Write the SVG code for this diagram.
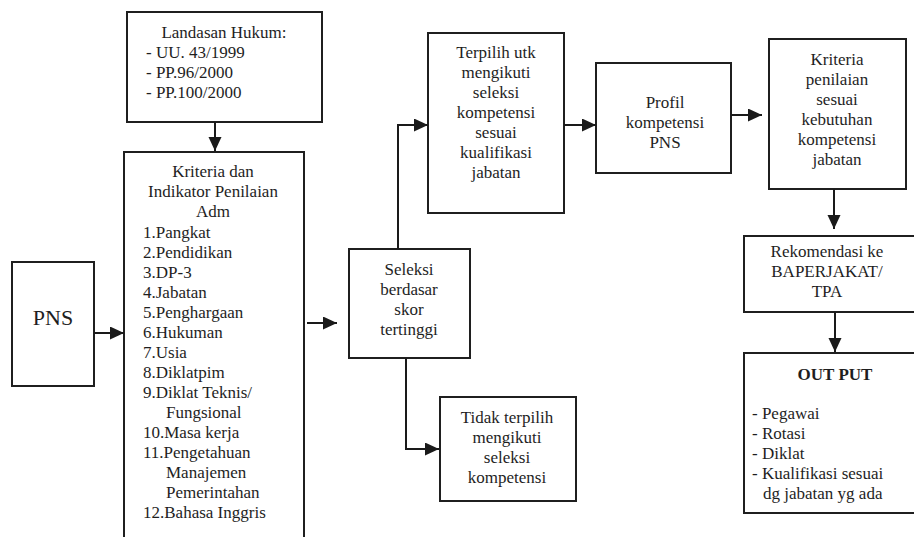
<svg xmlns="http://www.w3.org/2000/svg" width="914" height="537" viewBox="0 0 914 537">
<defs>
<marker id="ah" markerUnits="userSpaceOnUse" markerWidth="14" markerHeight="14" refX="14" refY="6.5" orient="auto">
<path d="M0,0 L14,6.5 L0,13 z" fill="#1a1a1a"/>
</marker>
</defs>
<style>
rect.box{fill:#fff;stroke:#1f1f1f;stroke-width:2}
text{font-family:"Liberation Serif","Times New Roman",serif;font-size:17px;fill:#1e1e1e}
text.c{text-anchor:middle}
text.big{font-size:22px}
text.b{font-weight:bold}
.conn path{fill:none;stroke:#1a1a1a;stroke-width:2;marker-end:url(#ah)}
</style>
<rect width="914" height="537" fill="#fff"/>
<g id="landasan">
<rect class="box" x="127" y="12" width="195" height="110"/>
<text class="c" x="224" y="38">Landasan Hukum:</text>
<text x="146" y="58">- UU. 43/1999</text>
<text x="146" y="78">- PP.96/2000</text>
<text x="146" y="98">- PP.100/2000</text>
</g>
<g id="kriteria-adm">
<rect class="box" x="124" y="152" width="180" height="400"/>
<text class="c" x="213" y="177">Kriteria dan</text>
<text class="c" x="213" y="197">Indikator Penilaian</text>
<text class="c" x="213" y="217">Adm</text>
<text x="143" y="238">1.Pangkat</text>
<text x="143" y="258">2.Pendidikan</text>
<text x="143" y="278">3.DP-3</text>
<text x="143" y="298">4.Jabatan</text>
<text x="143" y="318">5.Penghargaan</text>
<text x="143" y="338">6.Hukuman</text>
<text x="143" y="358">7.Usia</text>
<text x="143" y="378">8.Diklatpim</text>
<text x="143" y="398">9.Diklat Teknis/</text>
<text x="166" y="418">Fungsional</text>
<text x="143" y="438">10.Masa kerja</text>
<text x="143" y="458">11.Pengetahuan</text>
<text x="166" y="478">Manajemen</text>
<text x="166" y="498">Pemerintahan</text>
<text x="143" y="518">12.Bahasa Inggris</text>
</g>
<g id="pns">
<rect class="box" x="12" y="262" width="82" height="124"/>
<text class="c big" x="53" y="325">PNS</text>
</g>
<g id="seleksi">
<rect class="box" x="349" y="249" width="121" height="109"/>
<text class="c" x="409" y="275">Seleksi</text>
<text class="c" x="409" y="295">berdasar</text>
<text class="c" x="409" y="315">skor</text>
<text class="c" x="409" y="335">tertinggi</text>
</g>
<g id="tidak">
<rect class="box" x="440" y="397" width="136" height="104"/>
<text class="c" x="507" y="423">Tidak terpilih</text>
<text class="c" x="507" y="443">mengikuti</text>
<text class="c" x="507" y="463">seleksi</text>
<text class="c" x="507" y="483">kompetensi</text>
</g>
<g id="terpilih">
<rect class="box" x="428" y="33" width="136" height="180"/>
<text class="c" x="496" y="58">Terpilih utk</text>
<text class="c" x="496" y="78">mengikuti</text>
<text class="c" x="496" y="98">seleksi</text>
<text class="c" x="496" y="118">kompetensi</text>
<text class="c" x="496" y="138">sesuai</text>
<text class="c" x="496" y="158">kualifikasi</text>
<text class="c" x="496" y="178">jabatan</text>
</g>
<g id="profil">
<rect class="box" x="596" y="63" width="135" height="110"/>
<text class="c" x="665" y="108">Profil</text>
<text class="c" x="665" y="128">kompetensi</text>
<text class="c" x="665" y="148">PNS</text>
</g>
<g id="kriteria-penilaian">
<rect class="box" x="769" y="39" width="137" height="150"/>
<text class="c" x="837" y="65">Kriteria</text>
<text class="c" x="837" y="85">penilaian</text>
<text class="c" x="837" y="105">sesuai</text>
<text class="c" x="837" y="125">kebutuhan</text>
<text class="c" x="837" y="145">kompetensi</text>
<text class="c" x="837" y="165">jabatan</text>
</g>
<g id="rekomendasi">
<rect class="box" x="744" y="236" width="180" height="76"/>
<text class="c" x="827" y="257">Rekomendasi ke</text>
<text class="c" x="827" y="277">BAPERJAKAT/</text>
<text class="c" x="827" y="297">TPA</text>
</g>
<g id="output">
<rect class="box" x="744" y="353" width="180" height="160"/>
<text class="c b" x="835" y="380">OUT PUT</text>
<text x="752" y="419">- Pegawai</text>
<text x="752" y="439">- Rotasi</text>
<text x="752" y="459">- Diklat</text>
<text x="752" y="479">- Kualifikasi sesuai</text>
<text x="763" y="499">dg jabatan yg ada</text>
</g>
<g id="connectors" class="conn">
<path d="M215,122 V151"/>
<path d="M94,333 H124"/>
<path d="M307,323 H337"/>
<path d="M398,249 V125 H428"/>
<path d="M406,358 V449 H439"/>
<path d="M564,125 H596"/>
<path d="M731,115 H762"/>
<path d="M834,189 V229"/>
<path d="M835,312 V352"/>
</g>
</svg>
